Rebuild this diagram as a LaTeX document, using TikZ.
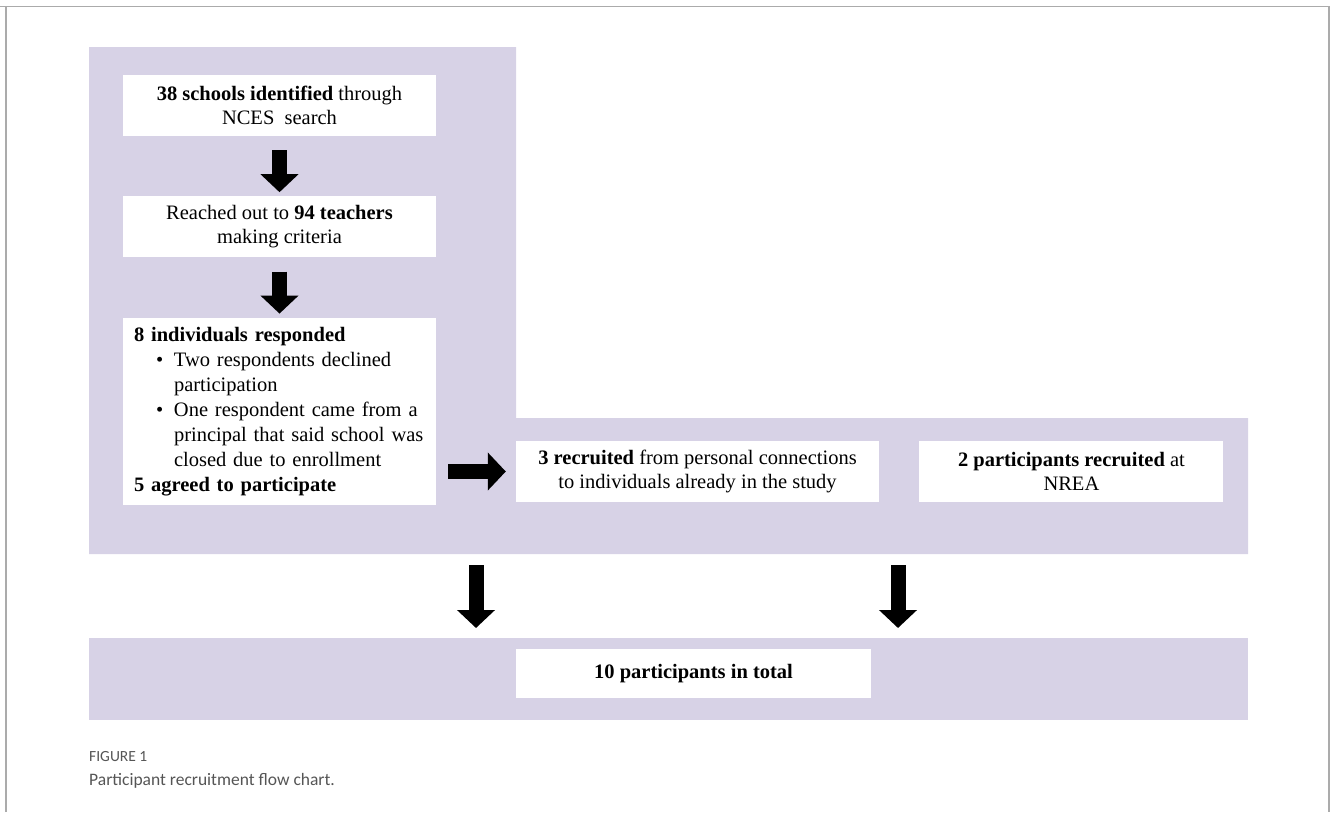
\documentclass[tikz,border=0pt]{standalone}
\usepackage{fontspec}
\setmainfont{Liberation Serif}
\newfontfamily\captionfont{Carlito}
\usetikzlibrary{arrows.meta, positioning, calc}
\definecolor{PanelLilac}{HTML}{D7D2E6}
\definecolor{FrameGray}{HTML}{ABABAB}
\definecolor{CaptionGray}{HTML}{555555}

\tikzset{
  stepbox/.style={fill=white, inner sep=0pt, align=center,
    font=\fontsize{20.5}{24}\selectfont},
  blockarrow/.style={line width=15pt, -{Triangle[width=37pt, length=18pt]}},
  captiontext/.style={anchor=west, inner sep=0pt, text=CaptionGray},
}

\begin{document}
\begin{tikzpicture}[x=1pt, y=-1pt]
  \useasboundingbox (0,0) rectangle (1330,812);
  \draw[FrameGray, line width=1.5pt] (6,812) -- (6,6.5);
  \draw[FrameGray, line width=1.5pt] (0,6.5) -- (1329,6.5) -- (1329,812);

  % lilac panels
  \fill[PanelLilac] (89,47) -- (516,47) -- (516,418) -- (1248,418)
    -- (1248,554) -- (89,554) -- cycle;
  \node[fill=PanelLilac, inner sep=0pt, anchor=north west,
        minimum width=1159pt, minimum height=82pt] (totalband) at (89,638) {};
  \coordinate (leftout) at (476,554);
  \coordinate (rightout) at (898,554);

  \node[stepbox, minimum width=313pt, minimum height=61pt] (schools) at (279.5,105.5)
    {\textbf{38 schools identified} through\\NCES\ \ search};
  \node[stepbox, minimum width=313pt, minimum height=61pt, below=60pt of schools] (teachers)
    {Reached out to \textbf{94 teachers}\\making criteria};
  \node[stepbox, align=left, text width=291pt, inner xsep=11pt, minimum height=187pt,
        font=\fontsize{20.5}{25}\selectfont, below=60pt of teachers] (responded)
    {\textbf{8 individuals responded}\\
     \hspace*{22pt}\makebox[18pt][l]{\textbullet}Two respondents declined\\
     \hspace*{40pt}participation\\
     \hspace*{22pt}\makebox[18pt][l]{\textbullet}One respondent came from a\\
     \hspace*{40pt}principal that said school was\\
     \hspace*{40pt}closed due to enrollment\\
     \textbf{5 agreed to participate}};

  \node[stepbox, minimum width=363pt, minimum height=61pt] (recruited) at (697.5,471.5)
    {\textbf{3 recruited} from personal connections\\to individuals already in the study};
  \node[stepbox, minimum width=304pt, minimum height=61pt, right=40pt of recruited] (nrea)
    {\textbf{2 participants recruited} at\\NREA};
  \node[stepbox, minimum width=355pt, minimum height=49pt] (total) at (693.5,673.5)
    {\textbf{10 participants in total}};

  \draw[blockarrow, shorten <=14pt, shorten >=4pt] (schools) -- (teachers);
  \draw[blockarrow, shorten <=14pt, shorten >=4pt] (teachers) -- (responded);
  \draw[blockarrow, shorten <=12pt, shorten >=10pt] (responded.east |- recruited.west) -- (recruited.west);
  \draw[blockarrow, shorten <=11pt, shorten >=10pt] (leftout) -- (leftout |- totalband.north);
  \draw[blockarrow, shorten <=11pt, shorten >=10pt] (rightout) -- (rightout |- totalband.north);

  \node[captiontext, font=\captionfont\fontsize{15.5}{18}\selectfont] (figlabel) at (89,757) {FIGURE 1};
  \node[captiontext, font=\captionfont\fontsize{17.5}{20}\selectfont] (figcaption) at (89,781)
    {Participant recruitment flow chart.};
\end{tikzpicture}
\end{document}
